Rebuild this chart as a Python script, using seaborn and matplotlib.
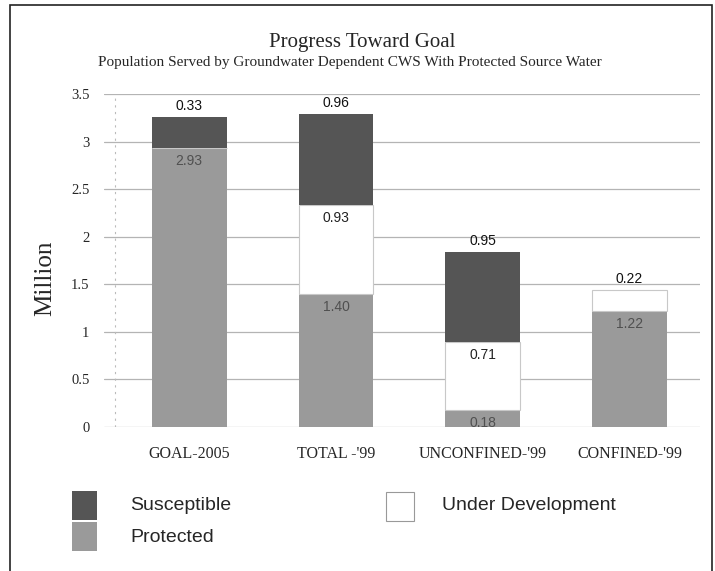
import pandas as pd
import matplotlib.pyplot as plt
from matplotlib.patches import Rectangle
import seaborn as sns

# Values (million people)
categories = ["GOAL-2005", "TOTAL -'99", "UNCONFINED-'99", "CONFINED-'99"]
protected = [2.93, 1.40, 0.18, 1.22]
under_dev = [0.00, 0.93, 0.71, 0.22]
susceptible = [0.33, 0.96, 0.95, 0.00]
yticks = [0, 0.5, 1, 1.5, 2, 2.5, 3, 3.5]
ytick_labels = ["0", "0.5", "1", "1.5", "2", "2.5", "3", "3.5"]

df = pd.DataFrame({"cat": categories, "protected": protected,
                   "under_dev": under_dev, "susceptible": susceptible})
df["b_dev"] = df["protected"]
df["b_sus"] = df["protected"] + df["under_dev"]

sns.set_style("white")
plt.rcParams["font.family"] = ["Liberation Serif", "DejaVu Serif"]

c_sus = "#555555"
c_pro = "#9a9a9a"

fig = plt.figure(figsize=(7.15, 5.71), dpi=100)
ax = fig.add_axes([0.1455, 0.2522, 0.8335, 0.5832])

# horizontal grid + faint dashed vertical line near the axis
for v in yticks:
    ax.axhline(v, color="#b4b4b4", lw=0.9, zorder=0)
ax.axvline(-0.505, color="#bbbbbb", lw=0.8, ls=(0, (2, 4)), zorder=0)

bw = 0.51
sns.barplot(data=df, x="cat", y="protected", color=c_pro, width=bw,
            saturation=1, ax=ax, linewidth=0, zorder=2)
sns.barplot(data=df, x="cat", y="under_dev", bottom=df["b_dev"], color="white",
            width=bw, saturation=1, ax=ax, edgecolor="#c8c8c8", linewidth=0.8, zorder=2)
sns.barplot(data=df, x="cat", y="susceptible", bottom=df["b_sus"], color=c_sus,
            width=bw, saturation=1, ax=ax, linewidth=0, zorder=2)

ax.set_xlim(-0.58, 3.48)
ax.set_ylim(0, 3.5)
ax.set_yticks(yticks)
ax.set_yticklabels(ytick_labels)
ax.set_xlabel("")
ax.set_ylabel("")
for s in ax.spines.values():
    s.set_visible(False)
ax.tick_params(axis="y", length=5, color="#888888", labelsize=10.5, pad=8, direction="inout")
ax.tick_params(axis="x", length=0, labelsize=11.5, pad=14)

# value labels
lab_font = dict(family=["Liberation Sans", "DejaVu Sans"], fontsize=10, ha="center", va="center")
for i in range(len(categories)):
    segs = [("protected", protected[i], 0, "#505050"),
            ("under_dev", under_dev[i], protected[i], "#222222"),
            ("susceptible", susceptible[i], protected[i] + under_dev[i], "#111111")]
    segs = [s for s in segs if s[1] > 0]
    for j, (name, val, base, col) in enumerate(segs):
        top = base + val
        if j == len(segs) - 1:
            ax.annotate(f"{val:.2f}", (i, top), xytext=(0, 11), textcoords="offset pixels",
                        color="#111111", **lab_font)
        else:
            ax.annotate(f"{val:.2f}", (i, top), xytext=(0, -13), textcoords="offset pixels",
                        color=col, **lab_font)

fig.text(0.063, 0.513, "Million", rotation=90, fontsize=18, ha="center", va="center")
fig.text(0.507, 0.925, "Progress Toward Goal", fontsize=15, ha="center", va="center")
fig.text(0.49, 0.891, "Population Served by Groundwater Dependent CWS With Protected Source Water",
         fontsize=11, ha="center", va="center")

# legend
leg_font = dict(family=["Liberation Sans", "DejaVu Sans"], fontsize=14, va="center")
W, H = 715, 571
def patch(x0, y0, w, h, fc, ec="none"):
    fig.patches.append(Rectangle((x0 / W, 1 - (y0 + h) / H), w / W, h / H, facecolor=fc,
                                 edgecolor=ec, lw=0.8, transform=fig.transFigure))
patch(72, 491, 25, 29, c_sus)
patch(72, 522, 25, 29, c_pro)
patch(386, 492, 28, 29, "white", "#999999")
fig.text(130 / W, 1 - 505 / H, "Susceptible", **leg_font)
fig.text(130 / W, 1 - 538 / H, "Protected", **leg_font)
fig.text(442 / W, 1 - 505 / H, "Under Development", **leg_font)

# outer frame
fig.patches.append(Rectangle((10 / W, -0.01), 702 / W, 1 - 5 / H + 0.01, facecolor="none",
                             edgecolor="#222222", lw=1.2, transform=fig.transFigure))

fig.savefig("out.png", dpi=100)
